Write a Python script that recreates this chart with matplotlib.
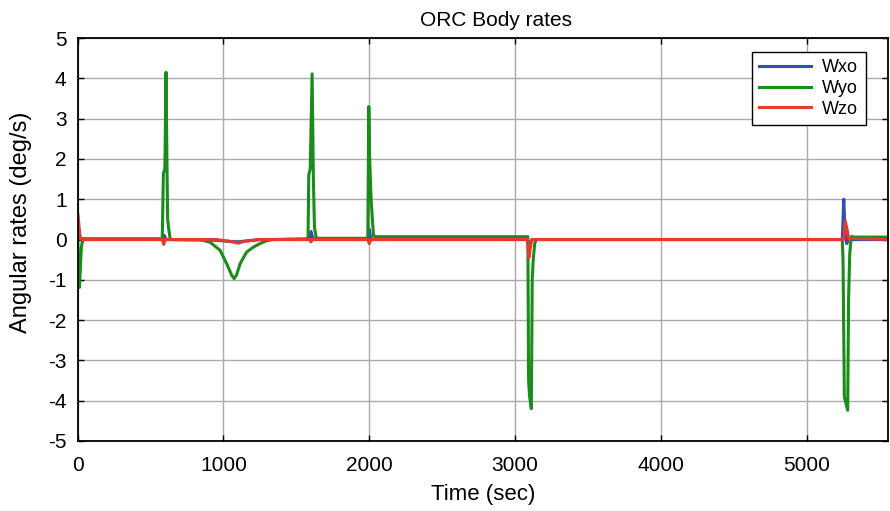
import matplotlib
matplotlib.use("Agg")
import matplotlib.pyplot as plt

plt.rcParams['font.family'] = ['Liberation Sans', 'DejaVu Sans']
plt.rcParams['axes.unicode_minus'] = False

# ---- data ----
t_x = [0, 5, 20, 580, 595, 605, 620, 950, 1050, 1100, 1150, 1250, 1590, 1600, 1612, 1625,
       1990, 2000, 2010, 2025, 3085, 3095, 3105, 3120, 5245, 5255, 5262, 5275, 5290, 5560]
wxo = [0.1, 0.3, 0.0, 0.0, 0.1, 0.0, 0.0, -0.02, -0.05, -0.06, -0.04, 0.0, 0.0, 0.2, 0.05, 0.0,
       0.0, 0.25, 0.05, 0.0, 0.0, -0.15, -0.05, 0.0, 0.0, 1.0, 0.4, -0.1, 0.0, 0.0]

t_y = [0, 5, 12, 25, 35, 580, 588, 598, 606, 612, 617, 625, 635,
       840, 909, 977, 1022, 1057, 1073, 1090, 1114, 1159, 1205, 1251, 1297, 1340,
       1580, 1585, 1595, 1608, 1617, 1624, 1637,
       1990, 1997, 2003, 2013, 2029, 2040,
       3088, 3093, 3100, 3112, 3118, 3125, 3135, 3146,
       5245, 5250, 5259, 5282, 5288, 5296, 5302, 5310, 5320, 5560]
wyo = [0, -0.6, -1.19, -0.2, 0.02, 0.02, 1.65, 1.75, 4.15, 2.0, 0.5, 0.25, 0.0,
       0.0, -0.07, -0.27, -0.6, -0.89, -0.97, -0.88, -0.6, -0.31, -0.19, -0.1, -0.03, 0.0,
       0.02, 1.6, 1.75, 4.11, 1.46, 0.3, 0.03,
       0.03, 3.3, 2.0, 0.97, 0.1, 0.07,
       0.07, -3.5, -3.9, -4.2, -1.0, -0.5, -0.1, 0.0,
       0.0, -0.5, -3.9, -4.24, -1.5, -0.35, -0.1, 0.08, 0.06, 0.06]

t_z = [0, 3, 15, 30, 580, 590, 600, 950, 1050, 1100, 1150, 1250, 1590, 1600, 1610,
       1990, 2000, 2012, 3085, 3095, 3105, 3115, 5255, 5265, 5275, 5290, 5300, 5560]
wzo = [0.65, 0.6, 0.05, 0.0, 0.0, -0.12, 0.0, 0.0, -0.05, -0.09, -0.04, 0.0, 0.0, -0.06, 0.0,
       0.0, -0.1, 0.0, 0.0, -0.45, -0.2, 0.0, 0.0, 0.45, 0.3, 0.0, 0.03, 0.0]

labels = ['Wxo', 'Wyo', 'Wzo']
colors = ['#2f4fb5', '#1a8c1a', '#e53a2f']
xticks = [0, 1000, 2000, 3000, 4000, 5000]
yticks = [-5, -4, -3, -2, -1, 0, 1, 2, 3, 4, 5]

fig = plt.figure(figsize=(8.9, 5.11), dpi=100)
ax = fig.add_axes([0.0873, 0.137, 0.9107, 0.7886])

ax.plot(t_x, wxo, color=colors[0], lw=2.2, label=labels[0])
ax.plot(t_y, wyo, color=colors[1], lw=2.2, label=labels[1])
ax.plot(t_z, wzo, color=colors[2], lw=2.2, label=labels[2])

ax.set_xlim(0, 5560)
ax.set_ylim(-5, 5)
ax.set_xticks(xticks)
ax.set_yticks(yticks)
ax.grid(True, color='#aaaaaa', lw=1)
ax.set_axisbelow(True)
ax.tick_params(direction='in', top=True, right=True, length=4, width=1, labelsize=15)
ax.tick_params(axis='x', pad=11)
ax.tick_params(axis='y', pad=8)
for s in ax.spines.values():
    s.set_linewidth(1.3)

ax.set_title('ORC Body rates', fontsize=15, pad=8.5, x=0.516)
ax.set_xlabel('Time (sec)', fontsize=16, labelpad=6)
ax.set_ylabel('Angular rates (deg/s)', fontsize=17)
ax.yaxis.set_label_coords(-0.056, 0.543)

leg = ax.legend(loc='upper right', bbox_to_anchor=(0.972, 0.965), borderaxespad=0,
                fontsize=13, handlelength=2.9, labelspacing=0.2, fancybox=False,
                framealpha=1, edgecolor='black', borderpad=0.4, handletextpad=0.6)
leg.get_frame().set_linewidth(1.0)

fig.savefig('out.png', dpi=100)
